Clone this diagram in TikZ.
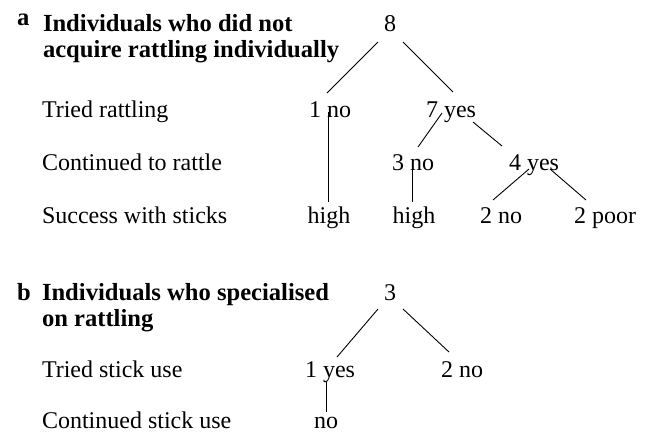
\documentclass[tikz,border=0pt]{standalone}
\usepackage{fontspec}
\setmainfont{Liberation Serif}
\begin{document}
\begin{tikzpicture}[x=1bp, y=-1bp,
  txt/.style={inner sep=0pt, outer sep=0pt, font=\fontsize{24bp}{28bp}\selectfont},
  lab/.style={txt, anchor=base west},
  head/.style={txt, anchor=base west, font=\fontsize{24.6bp}{28bp}\selectfont\bfseries},
  val/.style={txt, anchor=base},
  branch/.style={draw=black, line width=0.9bp}]
\useasboundingbox (0,0) rectangle (647,432);
\fill[white] (0,0) rectangle (647,432);

% ---- panel a ----
\node[head] (pa)  at (17,25) {a};
\node[head] (ta1) at (43,31) {Individuals who did not};
\node[head] (ta2) at (43,57) {acquire rattling individually};
\node[val]  (n8)  at (390,31) {8};

\node[lab] (qa1) at (42,117) {Tried rattling};
\node[val] (a1no)  at (330,117) {1 no};
\node[val] (a7yes) at (451,117) {7 yes};

\node[lab] (qa2) at (42,170) {Continued to rattle};
\node[val] (a3no)  at (413,170) {3 no};
\node[val] (a4yes) at (534,170) {4 yes};

\node[lab] (qa3) at (42,223) {Success with sticks};
\node[val] (ahigh1) at (329,223) {high};
\node[val] (ahigh2) at (414,223) {high};
\node[val] (a2no)   at (501,223) {2 no};
\node[val] (a2poor) at (605,223) {2 poor};

% branch end points
\coordinate (e8l)    at (378,42);
\coordinate (e8r)    at (403,42);
\coordinate (e1noT)  at (327,93);
\coordinate (e7yesT) at (453,92);
\coordinate (e1noB)  at (328,112);
\coordinate (eh1T)   at (328,202);
\coordinate (e7l)    at (442,113);
\coordinate (e7r)    at (473,122);
\coordinate (e3noT)  at (418,147);
\coordinate (e4yesT) at (502,146);
\coordinate (e3noB)  at (412,170);
\coordinate (eh2T)   at (412,202);
\coordinate (e4l)    at (529,169);
\coordinate (e4r)    at (550,169);
\coordinate (e2noT)  at (493,200);
\coordinate (e2pT)   at (586,200);

\draw[branch] (e8l) -- (e1noT);
\draw[branch] (e8r) -- (e7yesT);
\draw[branch] (e1noB) -- (eh1T);
\draw[branch] (e7l) -- (e3noT);
\draw[branch] (e7r) -- (e4yesT);
\draw[branch] (e3noB) -- (eh2T);
\draw[branch] (e4l) -- (e2noT);
\draw[branch] (e4r) -- (e2pT);

% ---- panel b ----
\node[head] (pb)  at (17,300) {b};
\node[head] (tb1) at (42,300) {Individuals who specialised};
\node[head] (tb2) at (42,326) {on rattling};
\node[val]  (n3)  at (390,300) {3};

\node[lab] (qb1) at (42,377) {Tried stick use};
\node[val] (b1yes) at (330,377) {1 yes};
\node[val] (b2no)  at (462,377) {2 no};

\node[lab] (qb2) at (42,428) {Continued stick use};
\node[val] (bno) at (326,428) {no};

\coordinate (f3l)    at (378,309);
\coordinate (f3r)    at (403,309);
\coordinate (f1yesT) at (337,357);
\coordinate (f2noT)  at (449,352);
\coordinate (f1yesB) at (326,382);
\coordinate (fnoT)   at (326,412);

\draw[branch] (f3l) -- (f1yesT);
\draw[branch] (f3r) -- (f2noT);
\draw[branch] (f1yesB) -- (fnoT);
\end{tikzpicture}
\end{document}
